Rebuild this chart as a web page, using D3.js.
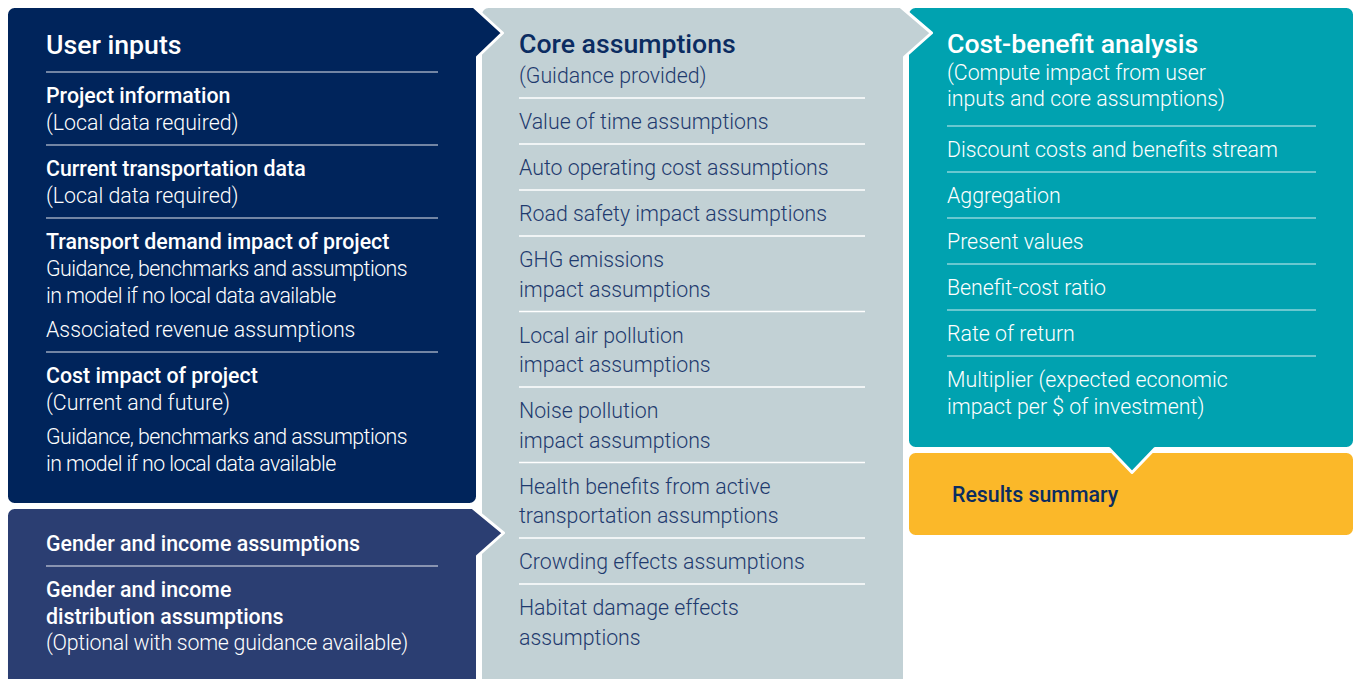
<!DOCTYPE html>
<html>
<head>
<meta charset="utf-8">
<script src="https://cdn.jsdelivr.net/npm/d3@7/dist/d3.min.js"></script>
<style>
  html, body { margin: 0; padding: 0; background: #ffffff; }
  svg { display: block; font-family: Roboto, "Noto Sans", sans-serif; }
</style>
</head>
<body>
<svg id="chart" width="1356" height="679"></svg>
<script>
// ---------- DATA (text content only) ----------
const userInputsTitle = ["User inputs"];
const userInputsSections = [
  [[{ role: "head", text: "Project information" }, { role: "note", text: "(Local data required)" }]],
  [[{ role: "head", text: "Current transportation data" }, { role: "note", text: "(Local data required)" }]],
  [
    [{ role: "head", text: "Transport demand impact of project" },
     { role: "note", text: "Guidance, benchmarks and assumptions" },
     { role: "note", text: "in model if no local data available" }],
    [{ role: "note", text: "Associated revenue assumptions" }]
  ],
  [
    [{ role: "head", text: "Cost impact of project" }, { role: "note", text: "(Current and future)" }],
    [{ role: "note", text: "Guidance, benchmarks and assumptions" },
     { role: "note", text: "in model if no local data available" }]
  ]
];

const genderTitle = [];
const genderSections = [
  [[{ role: "head", text: "Gender and income assumptions" }]],
  [[{ role: "head", text: "Gender and income" },
    { role: "head", text: "distribution assumptions" },
    { role: "note", text: "(Optional with some guidance available)" }]]
];

const coreTitle = ["Core assumptions", "(Guidance provided)"];
const coreItems = [
  ["Value of time assumptions"],
  ["Auto operating cost assumptions"],
  ["Road safety impact assumptions"],
  ["GHG emissions", "impact assumptions"],
  ["Local air pollution", "impact assumptions"],
  ["Noise pollution", "impact assumptions"],
  ["Health benefits from active", "transportation assumptions"],
  ["Crowding effects assumptions"],
  ["Habitat damage effects", "assumptions"]
];

const cbaTitle = ["Cost-benefit analysis", "(Compute impact from user", "inputs and core assumptions)"];
const cbaItems = [
  ["Discount costs and benefits stream"],
  ["Aggregation"],
  ["Present values"],
  ["Benefit-cost ratio"],
  ["Rate of return"],
  ["Multiplier (expected economic", "impact per $ of investment)"]
];

const resultsSections = [[[{ role: "head", text: "Results summary" }]]];

// ---------- LAYOUT / STYLE ----------
const svg = d3.select("#chart");
const R = 8;
const TITLE_SIZE = 26.67;
const BODY_SIZE = 21.33;

// path for a rounded rectangle with an optional arrow on the right (at the top) or the bottom
function panelPath(b, arrow) {
  const { x0, y0, x1, y1 } = b;
  const p = d3.path();
  p.moveTo(x0 + R, y0);
  if (arrow && arrow.side === "right") {
    p.lineTo(x1 - arrow.inset, y0);
    p.lineTo(x1 + arrow.depth, arrow.cy);
    p.lineTo(x1, arrow.cy + arrow.half);
    p.lineTo(x1, y1 - R);
  } else {
    p.lineTo(x1 - R, y0);
    p.arcTo(x1, y0, x1, y0 + R, R);
    p.lineTo(x1, y1 - R);
  }
  p.arcTo(x1, y1, x1 - R, y1, R);
  if (arrow && arrow.side === "bottom") {
    p.lineTo(arrow.cx + arrow.half, y1);
    p.lineTo(arrow.cx, y1 + arrow.depth);
    p.lineTo(arrow.cx - arrow.half, y1);
  }
  p.lineTo(x0 + R, y1);
  p.arcTo(x0, y1, x0, y1 - R, R);
  p.lineTo(x0, y0 + R);
  p.arcTo(x0, y0, x0 + R, y0, R);
  p.closePath();
  return p.toString();
}

const panels = {
  results: { box: { x0: 907.5, y0: 451.5, x1: 1354.5, y1: 536.5 }, fill: "#FBB829" },
  cba:     { box: { x0: 907.5, y0: 6.5, x1: 1354.5, y1: 448.5 }, fill: "#00A2B0",
             arrow: { side: "bottom", cx: 1132, half: 23, depth: 24 } },
  core:    { box: { x0: 480.5, y0: 6.5, x1: 904.5, y1: 700 }, fill: "#C2D1D5",
             arrow: { side: "right", cy: 33, inset: 4, half: 24, depth: 27 } },
  gender:  { box: { x0: 6.5, y0: 507.5, x1: 477.5, y1: 700 }, fill: "#2B3E72",
             arrow: { side: "right", cy: 533, inset: 5, half: 23, depth: 26 } },
  user:    { box: { x0: 6.5, y0: 6.5, x1: 477.5, y1: 504.5 }, fill: "#00245B",
             arrow: { side: "right", cy: 33, inset: 4, half: 24, depth: 25 } }
};

// draw order: later shapes sit on top, white outline separates them
["results", "cba", "core", "gender", "user"].forEach(k => {
  const pn = panels[k];
  svg.append("path")
    .attr("d", panelPath(pn.box, pn.arrow))
    .attr("fill", pn.fill)
    .attr("stroke", "#ffffff")
    .attr("stroke-width", 3)
    .attr("stroke-linejoin", "round");
});

// text block renderer
function drawBlock(cfg, title, sections) {
  const g = svg.append("g");
  let y = cfg.firstBaseline;
  let started = false;
  title.forEach((t, i) => {
    if (i > 0) y += cfg.titleStep;
    g.append("text").attr("x", cfg.x).attr("y", y)
      .attr("fill", i === 0 ? cfg.titleColor : cfg.color)
      .attr("font-size", i === 0 ? TITLE_SIZE : BODY_SIZE)
      .attr("font-weight", i === 0 ? 500 : 300)
      .text(t);
    started = true;
  });
  sections.forEach((sec, si) => {
    if (started) {
      const ruleY = y + (si === 0 ? cfg.headRule : 15);
      g.append("line")
        .attr("x1", cfg.x).attr("x2", cfg.ruleX2)
        .attr("y1", ruleY).attr("y2", ruleY)
        .attr("stroke", cfg.rule).attr("stroke-width", 1.3);
      y = ruleY + 31;
    }
    sec.forEach((grp, gi) => {
      if (gi > 0) y += cfg.step + 7;
      const notes = [];
      grp.forEach((ln, li) => {
        if (li > 0) y += cfg.step;
        const t = g.append("text").attr("x", cfg.x).attr("y", y)
          .attr("fill", ln.role === "head" ? cfg.headColor : cfg.color)
          .attr("font-size", BODY_SIZE)
          .attr("font-weight", ln.role === "head" ? 500 : 300)
          .text(ln.text);
        if (ln.role === "note") notes.push(t);
      });
      // paragraph tracking: tighten letter spacing of a note paragraph that is too wide
      if (cfg.maxW && notes.length) {
        let widest = null, wMax = 0;
        notes.forEach(t => {
          const w = t.node().getComputedTextLength();
          if (w > wMax) { wMax = w; widest = t; }
        });
        if (wMax > cfg.maxW) {
          const ls = (cfg.maxW - wMax) / widest.text().length;
          notes.forEach(t => t.attr("letter-spacing", ls.toFixed(3)));
        }
      }
    });
    started = true;
  });
}

const asNotes = items => items.map(lines => [lines.map(t => ({ role: "note", text: t }))]);

drawBlock({ x: 46, ruleX2: 438, firstBaseline: 54, titleStep: 27, step: 27, headRule: 18, maxW: 361,
            color: "#ffffff", titleColor: "#ffffff", headColor: "#ffffff", rule: "rgba(255,255,255,0.6)" },
          userInputsTitle, userInputsSections);

drawBlock({ x: 46, ruleX2: 438, firstBaseline: 551, titleStep: 27, step: 26.5, headRule: 15, maxW: 362,
            color: "#ffffff", titleColor: "#ffffff", headColor: "#ffffff", rule: "rgba(255,255,255,0.6)" },
          genderTitle, genderSections);

drawBlock({ x: 519, ruleX2: 865, firstBaseline: 53, titleStep: 30, step: 29.5, headRule: 15,
            color: "#1E3A6E", titleColor: "#0B2C61", headColor: "#0B2C61", rule: "#ffffff" },
          coreTitle, asNotes(coreItems));

drawBlock({ x: 947, ruleX2: 1316, firstBaseline: 53, titleStep: 26.5, step: 27, headRule: 20,
            color: "#ffffff", titleColor: "#ffffff", headColor: "#ffffff", rule: "rgba(255,255,255,0.55)" },
          cbaTitle, asNotes(cbaItems));

drawBlock({ x: 952, ruleX2: 1316, firstBaseline: 502, titleStep: 27, step: 27, headRule: 15,
            color: "#0B2C61", titleColor: "#0B2C61", headColor: "#0B2C61", rule: "none" },
          [], resultsSections);
</script>
</body>
</html>
